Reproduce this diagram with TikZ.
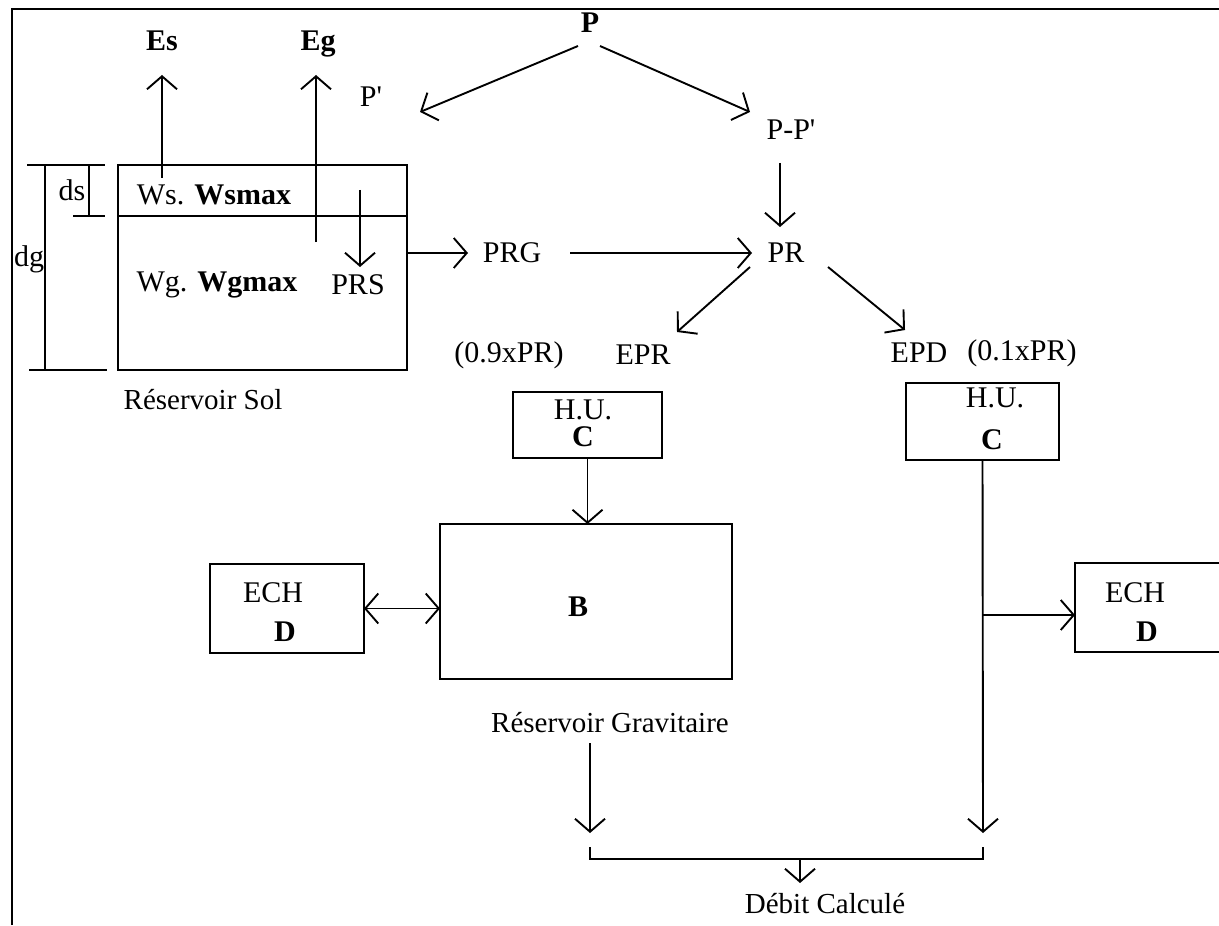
\documentclass[tikz,border=0pt]{standalone}
\usepackage{fontspec}
\setmainfont{Liberation Serif}
\usetikzlibrary{arrows.meta}
\begin{document}
\begin{tikzpicture}[x=0.5pt,y=-0.5pt,
  line width=0.95pt,
  >={Straight Barb[length=6.5pt,width=15pt]},
  lbl/.style={inner sep=0pt, font=\fontsize{15}{18}\selectfont},
  blbl/.style={inner sep=0pt, font=\fontsize{15}{18}\selectfont\bfseries},
  captxt/.style={inner sep=0pt, font=\fontsize{14.5}{17}\selectfont},
  box/.style={draw, rectangle, inner sep=0pt, outer sep=0pt},
  frameline/.style={line width=0.6pt},
]
\useasboundingbox (0,0) rectangle (1219,925);
\clip (0,0) rectangle (1219,925);

% frame
\draw[frameline] (12,925) -- (12,9) -- (1219,9);

% ---- boxes
\node[box, minimum width=144.5pt, minimum height=102.5pt] (soil) at (262.5,267.5) {};
\node[box, minimum width=74.5pt, minimum height=33pt] (hu1) at (587.5,425) {};
\node[box, minimum width=76.5pt, minimum height=38.5pt] (hu2) at (982.5,421.5) {};
\node[box, minimum width=146pt, minimum height=77.5pt] (bres) at (586,601.5) {};
\node[box, minimum width=77pt, minimum height=44.5pt] (ech1) at (287,608.5) {};
\node[box, minimum width=80pt, minimum height=44.5pt] (ech2) at (1155,607.5) {};

% soil layer line
\coordinate (layL) at (118,216);
\coordinate (layR) at (407,216);
\draw (layL) -- (layR);

% dimension lines
\coordinate (dgT1) at (27,165); \coordinate (dgT2) at (105,165);
\coordinate (dgB1) at (29,370); \coordinate (dgB2) at (107,370);
\coordinate (dgV1) at (45,165); \coordinate (dgV2) at (45,370);
\draw (dgT1) -- (dgT2);
\draw (dgB1) -- (dgB2);
\draw (dgV1) -- (dgV2);
\coordinate (dsV1) at (89,165); \coordinate (dsV2) at (89,216);
\coordinate (dsB1) at (73,216); \coordinate (dsB2) at (105,216);
\draw (dsV1) -- (dsV2);
\draw (dsB1) -- (dsB2);
\node[lbl, anchor=base] (ds) at (72,201) {ds};
\node[lbl, anchor=base] (dg) at (29,266) {dg};

% ---- texts
\node[blbl, anchor=base] (Es) at (162,51) {Es};
\node[blbl, anchor=base] (Eg) at (318,51) {Eg};
\node[blbl] (P) at (590,23) {P};
\node[lbl] (Pp) at (371,97) {P\textquotesingle};
\node[lbl] (PmP) at (791,130) {P-P\textquotesingle};
\node[lbl] (PRG) at (512,253) {PRG};
\node[lbl] (PR) at (786,253) {PR};
\node[lbl] (ws) at (214,195) {Ws. \textbf{Wsmax}};
\node[lbl] (wg) at (217,285) {Wg. \textbf{Wgmax}};
\node[lbl] (PRS) at (358,285) {PRS};
\node[captxt] (rsol) at (203,400) {Réservoir Sol};
\node[lbl] (f09) at (509,355) {(0.9xPR)};
\node[lbl] (EPR) at (643,355) {EPR};
\node[lbl] (EPD) at (919,353) {EPD};
\node[lbl] (f01) at (1022,353) {(0.1xPR)};
\node[lbl] (hu1a) at (583,410) {H.U.};
\node[blbl] (hu1b) at (583,437) {C};
\node[lbl] (hu2a) at (995,398) {H.U.};
\node[blbl] (hu2b) at (992,440) {C};
\node[blbl] (Blbl) at (578,607) {B};
\node[lbl] (ech1a) at (273,593) {ECH};
\node[blbl] (ech1b) at (285,632) {D};
\node[lbl] (ech2a) at (1135,593) {ECH};
\node[blbl] (ech2b) at (1147,632) {D};
\node[captxt] (rgrav) at (610,723) {Réservoir Gravitaire};
\node[captxt] (debit) at (825,904) {Débit Calculé};

% ---- connectors
\coordinate (esS) at (162,178); \coordinate (esT) at (162,75);
\draw[->] (esS) -- (esT);
\coordinate (egS) at (316,242); \coordinate (egT) at (316,75);
\draw[->] (egS) -- (egT);
\coordinate (pL) at (578,46); \coordinate (ppT) at (420,112);
\draw[->] (pL) -- (ppT);
\coordinate (pR) at (600,46); \coordinate (pmpT) at (750,112);
\draw[->] (pR) -- (pmpT);
\coordinate (pmpS) at (780,163); \coordinate (prT1) at (780,227);
\draw[->] (pmpS) -- (prT1);
\coordinate (prsS) at (360,190); \coordinate (prsT) at (360,267);
\draw[->] (prsS) -- (prsT);
\coordinate (prgT) at (468,253);
\draw[->] (soil.east |- prgT) -- (prgT);
\coordinate (prgS) at (570,253); \coordinate (prT2) at (752,253);
\draw[->] (prgS) -- (prT2);
\coordinate (prL) at (750,267); \coordinate (eprT) at (677,332);
\draw[->] (prL) -- (eprT);
\coordinate (prR) at (828,267); \coordinate (epdT) at (905,330);
\draw[->] (prR) -- (epdT);
\draw[->] (hu1.south) -- (bres.north -| hu1.south);
\draw[<->] (ech1.east) -- (bres.west |- ech1.east);
\coordinate (rgS) at (590,743); \coordinate (rgT) at (590,833);
\draw[->] (rgS) -- (rgT);
\coordinate (hu2T) at (983,833);
\draw[->] (hu2.south) -- (hu2T);
\coordinate (branch) at (983,615);
\draw[->] (branch) -- (ech2.west |- branch);
\coordinate (brL) at (590,847); \coordinate (brR) at (983,847);
\coordinate (brLb) at (590,859); \coordinate (brRb) at (983,859);
\draw (brL) -- (brLb) -- (brRb) -- (brR);
\coordinate (brM) at (800,859); \coordinate (brMT) at (800,883);
\draw[->] (brM) -- (brMT);
\end{tikzpicture}
\end{document}
